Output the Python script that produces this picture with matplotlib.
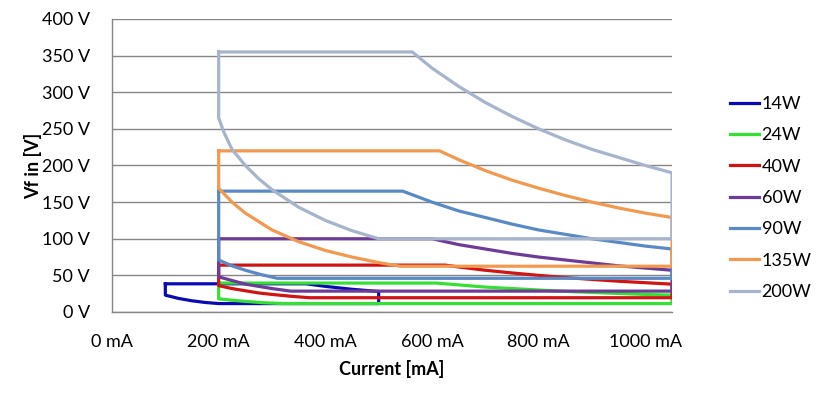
import matplotlib
matplotlib.use("Agg")
import matplotlib.pyplot as plt

plt.rcParams['font.family'] = ['Lato', 'DejaVu Sans']

labels = ["14W", "24W", "40W", "60W", "90W", "135W", "200W"]
colors = ["#0A0AB4", "#33E033", "#D01414", "#6E3C96", "#5A8AC6", "#F2994F", "#A6B4CC"]

# operating windows: current (mA), voltage (V), closed outlines
i_14w = [100, 364, 400, 450, 500, 500, 200, 175, 150, 125, 100, 100]
v_14w = [38.5, 38.5, 35, 31, 28, 11.5, 11.5, 13, 15.3, 18.5, 23, 38.5]

i_24w = [200, 608, 650, 700, 750, 800, 850, 900, 950, 1000, 1050, 1050, 320, 285, 250, 225, 200, 200]
v_24w = [39.5, 39.5, 37, 34, 32, 30, 28.2, 26.7, 25.3, 24, 23, 11.5, 11.5, 12.6, 14.5, 16, 18, 39.5]

i_40w = [200, 625, 650, 700, 750, 800, 850, 900, 950, 1000, 1050, 1050, 370, 335, 300, 275, 250, 225, 200, 200]
v_40w = [64, 64, 61.5, 57, 53.3, 50, 47, 44.5, 42, 40, 38, 19.5, 19.5, 21.5, 24, 26, 29, 32, 36, 64]

i_60w = [200, 600, 650, 700, 750, 800, 850, 900, 950, 1000, 1050, 1050, 335, 300, 275, 250, 225, 200, 200]
v_60w = [100, 100, 92, 86, 80, 75, 71, 67, 63, 60, 57, 28.5, 28.5, 32, 35, 38, 43, 48, 100]

i_90w = [200, 545, 600, 650, 700, 750, 800, 850, 900, 950, 1000, 1050, 1050, 310, 280, 250, 225, 200, 200]
v_90w = [165, 165, 150, 138, 129, 120, 112, 106, 100, 95, 90, 86, 46, 46, 51, 57, 63, 71, 165]

i_135w = [200, 614, 650, 700, 750, 800, 850, 900, 950, 1000, 1050, 1050,
          540, 500, 450, 400, 350, 300, 250, 225, 200, 200]
v_135w = [220, 220, 208, 193, 180, 169, 159, 150, 142, 135, 129, 62.5,
          62.5, 67.5, 75, 84, 96, 112, 135, 150, 169, 220]

i_200w = [200, 563, 600, 650, 700, 750, 800, 850, 900, 950, 1000, 1050, 1050,
          500, 450, 400, 350, 300, 275, 250, 225, 210, 200, 200]
v_200w = [355, 355, 333, 308, 286, 267, 250, 235, 222, 211, 200, 190, 100,
          100, 111, 125, 143, 167, 182, 200, 222, 245, 265, 355]

series_i = [i_14w, i_24w, i_40w, i_60w, i_90w, i_135w, i_200w]
series_v = [v_14w, v_24w, v_40w, v_60w, v_90w, v_135w, v_200w]

x_ticks = [0, 200, 400, 600, 800, 1000]
y_ticks = [0, 50, 100, 150, 200, 250, 300, 350, 400]

fig = plt.figure(figsize=(8.26, 3.96), dpi=100)
ax = fig.add_axes([112/826, 1-312/396, 560/826, 293/396])

for xs, ys, c, lab in zip(series_i, series_v, colors, labels):
    ax.plot(xs, ys, color=c, lw=2.3, label=lab, solid_joinstyle='round')

ax.set_xlim(0, 1050)
ax.set_ylim(0, 400)
ax.set_xticks(x_ticks)
ax.set_xticklabels([f"{t} mA" for t in x_ticks])
ax.set_yticks(y_ticks)
ax.set_yticklabels([f"{t} V" for t in y_ticks])
ax.tick_params(axis='both', length=0, labelsize=13, colors='black')
ax.tick_params(axis='y', pad=16)
ax.tick_params(axis='x', pad=16)
ax.grid(axis='y', color='#868686', lw=1)
ax.set_axisbelow(True)
for s in ['top', 'right']:
    ax.spines[s].set_visible(False)
for s in ['left', 'bottom']:
    ax.spines[s].set_color('#868686')
    ax.spines[s].set_linewidth(1)

ax.set_ylabel("Vf in [V]", fontsize=13, fontweight='bold', labelpad=0)
ax.set_xlabel("Current [mA]", fontsize=13, fontweight='bold', labelpad=7)

fig.legend(loc='center left', bbox_to_anchor=(730/826, 0.5), bbox_transform=fig.transFigure,
           frameon=False, fontsize=13, handlelength=1.6, handletextpad=0.15,
           labelspacing=0.85, borderpad=0, borderaxespad=0)

fig.savefig("out.png", dpi=100)
